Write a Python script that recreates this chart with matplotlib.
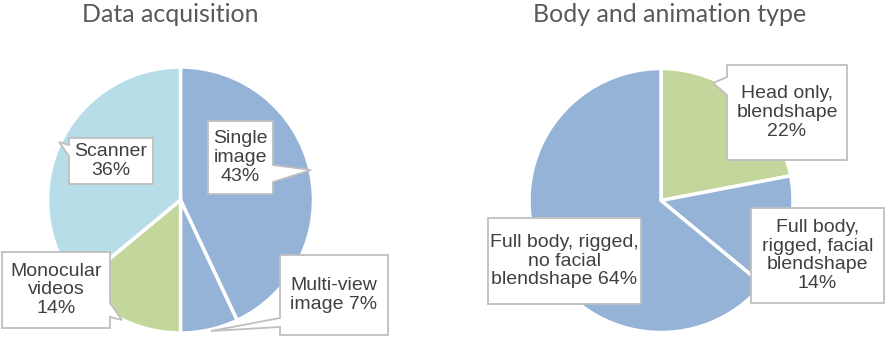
import matplotlib
matplotlib.use("Agg")
import matplotlib.pyplot as plt
from matplotlib.patches import Polygon

# data
acq_labels = ["Single\nimage\n43%", "Multi-view\nimage 7%", "Monocular\nvideos\n14%", "Scanner\n36%"]
acq_values = [43, 7, 14, 36]
acq_colors = ["#95b3d7", "#95b3d7", "#c3d69b", "#b7dee8"]

body_labels = ["Head only,\nblendshape\n22%", "Full body,\nrigged, facial\nblendshape\n14%",
               "Full body, rigged,\nno facial\nblendshape 64%"]
body_values = [22, 14, 64]
body_colors = ["#c3d69b", "#95b3d7", "#95b3d7"]

W, H = 886, 339
fig = plt.figure(figsize=(W / 100, H / 100), dpi=100)
ax = fig.add_axes([0, 0, 1, 1])

wp = dict(edgecolor="white", linewidth=2.5)
ax.pie(acq_values, colors=acq_colors, startangle=90, counterclock=False,
       center=(180.5, H - 200), radius=133, wedgeprops=wp)
ax.pie(body_values, colors=body_colors, startangle=90, counterclock=False,
       center=(661, H - 200.5), radius=132, wedgeprops=wp)

ax.set_xlim(0, W)
ax.set_ylim(0, H)
ax.set_aspect("equal")
ax.axis("off")


def callout(box, text, side=None, base=None, tip=None):
    # box = (x0, y0, x1, y1) in pixels from the top-left corner
    x0, y0, x1, y1 = box
    pts = [(x0, y0), (x1, y0)]
    if side == "right":
        pts += [(x1, base[0]), tip, (x1, base[1])]
    pts += [(x1, y1), (x0, y1)]
    if side == "left":
        pts += [(x0, base[1]), tip, (x0, base[0])]
    poly = Polygon([(x, H - y) for x, y in pts], closed=True, facecolor="white",
                   edgecolor="#bfbfbf", linewidth=1.3, zorder=5)
    ax.add_patch(poly)
    ax.text((x0 + x1) / 2, H - (y0 + y1) / 2, text, ha="center", va="center",
            fontsize=14, color="#404040", family="Liberation Sans",
            linespacing=1.15, zorder=6)


callout((208, 121, 273, 194), acq_labels[0], "right", (165, 182), (311, 170))
callout((280, 255, 388, 335), acq_labels[1], "left", (318, 327), (211, 331))
callout((2, 252, 110, 328), acq_labels[2], "right", (303, 317), (122, 320))
callout((69, 138, 153, 184), acq_labels[3], "left", (145, 156), (59, 142))

callout((727, 65, 847, 160), body_labels[0], "left", (77, 95), (713, 83))
callout((751, 208, 884, 303), body_labels[1])
callout((488, 218, 641, 304), body_labels[2])

ax.text(170, H - 14, "Data acquisition", ha="center", va="center",
        fontsize=18, color="#595959", family="Lato")
ax.text(670, H - 14, "Body and animation type", ha="center", va="center",
        fontsize=18, color="#595959", family="Lato")

fig.savefig("out.png", dpi=100)
